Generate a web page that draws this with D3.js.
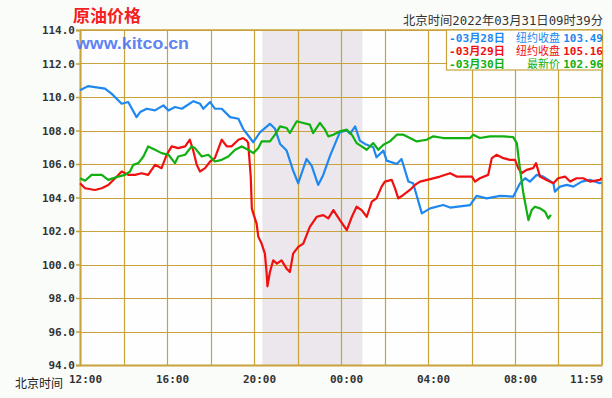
<!DOCTYPE html>
<html><head><meta charset="utf-8">
<script src="https://cdn.jsdelivr.net/npm/d3@7"></script>
<style>
html,body{margin:0;padding:0;background:#fafcfa;}
svg{display:block;}
</style></head>
<body><div id="chart"></div>
<script>
// ---- data (minutes after 12:00 Beijing time, price USD) ----
const yTicks = [94,96,98,100,102,104,106,108,110,112,114];
const xTickMinutes = [0,240,480,720,960,1200,1439];
const xTickLabels = ["12:00","16:00","20:00","00:00","04:00","08:00","11:59"];
const shadeRange = [503, 779];

const blueT = [0,22,69,87,115,133,156,166,184,207,230,244,262,281,313,331,340,359,372,391,414,437,450,464,478,497,524,538,552,570,588,602,625,639,657,671,690,717,736,745,759,772,786,809,818,837,846,874,887,906,919,943,966,1002,1021,1076,1094,1122,1159,1195,1214,1228,1241,1260,1278,1306,1310,1324,1343,1361,1384,1407,1434,1439];
const blueV = [110.4,110.65,110.5,110.2,109.6,109.7,108.8,109.1,109.3,109.2,109.5,109.2,109.4,109.3,109.75,109.6,109.3,109.7,109.3,109.3,108.8,108.7,108.1,107.7,107.3,107.9,108.4,108.1,107.2,106.8,105.6,104.85,106.3,105.9,104.75,105.35,106.5,107.9,108.0,107.8,108.25,107.4,107.2,107.0,106.4,106.8,106.2,106.0,106.3,104.95,104.85,103.05,103.35,103.55,103.4,103.55,104.1,103.95,104.1,104.05,104.85,105.15,104.95,105.35,105.25,104.85,104.35,104.65,104.75,104.65,104.95,105.05,104.85,104.9];

const redT = [0,14,41,60,78,97,115,133,152,170,188,207,225,239,253,271,290,303,313,322,331,345,359,372,391,405,418,437,450,460,464,471,474,478,487,492,501,510,515,517,524,533,543,556,570,579,588,602,616,634,653,671,685,699,717,736,750,763,777,791,805,818,832,841,860,869,878,892,910,924,938,966,993,1021,1039,1081,1090,1103,1126,1136,1149,1168,1186,1200,1209,1218,1232,1250,1258,1269,1287,1306,1319,1338,1352,1370,1388,1407,1434,1439];
const redV = [104.85,104.55,104.45,104.55,104.75,105.15,105.55,105.35,105.35,105.45,105.35,105.95,105.75,106.55,107.05,106.95,107.05,107.45,106.75,105.95,105.55,105.75,106.15,106.35,107.45,107.05,107.05,107.45,107.55,107.4,107.25,105.25,103.35,103.05,102.45,101.65,101.25,100.65,99.45,98.7,99.55,100.25,100.05,100.25,99.75,99.55,100.65,101.05,101.25,102.25,102.85,102.95,102.75,103.25,102.65,102.05,102.85,103.45,103.25,102.85,103.75,103.95,104.65,104.95,105.05,104.55,103.95,104.15,104.45,104.75,104.95,105.1,105.25,105.45,105.25,105.25,104.95,105.15,105.35,106.35,106.55,106.35,106.25,106.25,105.75,105.45,105.65,105.75,106.05,105.25,105.05,104.85,105.15,105.25,104.95,105.15,105.15,104.95,105.05,105.16];

const greenT = [0,14,32,60,78,106,124,138,147,161,175,188,207,225,244,262,271,290,308,317,336,354,372,391,409,428,446,464,478,492,501,524,538,552,570,579,598,616,634,643,662,676,685,699,717,736,750,763,777,791,809,823,837,855,874,892,910,929,956,975,1002,1029,1076,1085,1103,1131,1168,1195,1205,1214,1223,1237,1246,1255,1269,1283,1292,1299];
const greenV = [105.15,105.0,105.35,105.35,105.05,105.25,105.35,105.55,105.95,106.05,106.45,107.05,106.85,106.65,106.55,106.05,106.45,106.55,107.05,106.95,106.45,106.55,106.15,106.25,106.45,106.85,107.05,106.85,106.65,106.95,107.35,107.35,107.75,108.25,108.15,107.85,108.55,108.45,108.35,107.85,108.45,108.05,107.65,107.75,107.95,108.05,107.75,107.25,107.05,106.85,107.25,106.85,107.15,107.35,107.75,107.75,107.55,107.35,107.45,107.65,107.55,107.55,107.55,107.75,107.55,107.65,107.65,107.6,107.25,105.65,104.25,102.65,103.25,103.45,103.35,103.15,102.75,102.96];

const legendDates = ["-03月28日","-03月29日","-03月30日"];
const legendNames = ["纽约收盘","纽约收盘","最新价"];
const legendValues = ["103.49","105.16","102.96"];
const seriesColors = ["#1e88f0","#f01010","#10b010"];

// ---- layout ----
const W = 612, H = 398;
const pLeft = 80, pRight = 602, pTop = 30, pBottom = 365;
const gridColor = "#c9a23c";
const mono = "'DejaVu Sans Mono', 'Noto Sans CJK SC', monospace";
const cjk = "'Noto Sans CJK SC', 'DejaVu Sans', sans-serif";

const svg = d3.select("#chart").append("svg").attr("width", W).attr("height", H);
svg.append("rect").attr("width", W).attr("height", H).attr("fill", "#fafcfa");

const x = d3.scaleLinear().domain([0, 1440]).range([pLeft, pRight]);
const y = d3.scaleLinear().domain([94, 114]).range([pBottom, pTop]);

svg.append("rect").attr("x", pLeft).attr("y", pTop).attr("width", pRight-pLeft).attr("height", pBottom-pTop).attr("fill", "#fdfefd");
svg.append("rect").attr("x", x(shadeRange[0])).attr("y", pTop)
  .attr("width", x(shadeRange[1]) - x(shadeRange[0])).attr("height", pBottom-pTop).attr("fill", "#ebe7ec");

// gridlines
const vGrid = d3.range(0, 1441, 120);
svg.append("g").selectAll("line").data(vGrid).join("line")
  .attr("x1", d => Math.round(x(d)) + 0.5).attr("x2", d => Math.round(x(d)) + 0.5)
  .attr("y1", pTop).attr("y2", pBottom).attr("stroke", gridColor).attr("stroke-width", 1.2);
svg.append("g").selectAll("line").data(yTicks).join("line")
  .attr("x1", pLeft).attr("x2", pRight)
  .attr("y1", d => Math.round(y(d)) + 0.5).attr("y2", d => Math.round(y(d)) + 0.5)
  .attr("stroke", gridColor).attr("stroke-width", 1.2);

// axes
const yAxis = d3.axisLeft(y).tickValues(yTicks).tickSize(4).tickFormat(d3.format(".1f"));
const gy = svg.append("g").attr("transform", `translate(${pLeft},0)`).call(yAxis);
gy.select(".domain").attr("stroke", gridColor).attr("stroke-width", 2);
gy.selectAll(".tick line").attr("stroke", gridColor).attr("stroke-width", 1.5);
gy.selectAll(".tick text").attr("font-family", mono).attr("font-weight", "bold")
  .attr("font-size", 11).attr("fill", "#333").attr("x", -5).attr("dy", "0.36em");

const xAxis = d3.axisBottom(x).tickValues(xTickMinutes).tickSize(0)
  .tickFormat((d, i) => xTickLabels[i]);
const gx = svg.append("g").attr("transform", `translate(0,${pBottom})`).call(xAxis);
gx.select(".domain").attr("stroke", gridColor).attr("stroke-width", 2);
const lastIdx = xTickLabels.length - 1;
gx.selectAll(".tick text").attr("font-family", mono).attr("font-weight", "bold")
  .attr("font-size", 11).attr("fill", "#333").attr("y", 18).attr("dy", "0")
  .attr("dx", (d, i) => i === lastIdx ? 1 : 5)
  .attr("text-anchor", (d, i) => i === lastIdx ? "end" : "middle");

// top/right border
svg.append("line").attr("x1", pLeft).attr("x2", pRight).attr("y1", pTop).attr("y2", pTop).attr("stroke", gridColor).attr("stroke-width", 1.5);
svg.append("line").attr("x1", pRight).attr("x2", pRight).attr("y1", pTop).attr("y2", pBottom).attr("stroke", gridColor).attr("stroke-width", 1.5);

svg.append("text").attr("x", 15).attr("y", 388).attr("font-family", cjk).attr("font-size", 12)
  .attr("fill", "#222").text("北京时间");

// lines
const lineGen = d3.line().x(d => x(d[0])).y(d => y(d[1]));
const series = [[blueT, blueV], [redT, redV], [greenT, greenV]];
series.forEach((s, i) => {
  const pts = s[0].map((t, j) => [t, s[1][j]]);
  svg.append("path").datum(pts).attr("d", lineGen).attr("fill", "none")
    .attr("stroke", seriesColors[i]).attr("stroke-width", 2.2).attr("stroke-linejoin", "round");
});

// titles
svg.append("text").attr("x", 73).attr("y", 22).attr("font-family", cjk).attr("font-weight", "bold")
  .attr("font-size", 17).attr("fill", "#f52020").text("原油价格");
svg.append("text").attr("x", 76).attr("y", 49).attr("font-family", "'Liberation Sans', Arial, sans-serif")
  .attr("font-weight", "bold").attr("font-size", 17).attr("fill", "#4a72f2").attr("fill-opacity", 0.9)
  .attr("textLength", 113).attr("lengthAdjust", "spacingAndGlyphs").text("www.kitco.cn");
svg.append("text").attr("x", 603).attr("y", 25).attr("text-anchor", "end").attr("font-family", mono)
  .attr("font-size", 12).attr("fill", "#333").attr("textLength", 200).attr("lengthAdjust", "spacingAndGlyphs")
  .text("北京时间2022年03月31日09时39分");

// legend
const lg = svg.append("g");
lg.append("rect").attr("x", 446.5).attr("y", 30).attr("width", 156).attr("height", 40)
  .attr("fill", "#ffffff").attr("stroke", gridColor).attr("stroke-width", 1.2);
legendDates.forEach((d, i) => {
  const by = 41.5 + i * 13;
  lg.append("text").attr("x", 449).attr("y", by).attr("font-family", mono).attr("font-weight", "bold")
    .attr("font-size", 11).attr("fill", seriesColors[i]).attr("textLength", 56)
    .attr("lengthAdjust", "spacingAndGlyphs").text(d);
  lg.append("text").attr("x", 560).attr("y", by).attr("text-anchor", "end").attr("font-family", mono)
    .attr("font-size", 11).attr("fill", seriesColors[i]).text(legendNames[i]);
  lg.append("text").attr("x", 603).attr("y", by).attr("text-anchor", "end").attr("font-family", mono)
    .attr("font-weight", "bold").attr("font-size", 11).attr("fill", seriesColors[i]).text(legendValues[i]);
});
</script></body></html>
